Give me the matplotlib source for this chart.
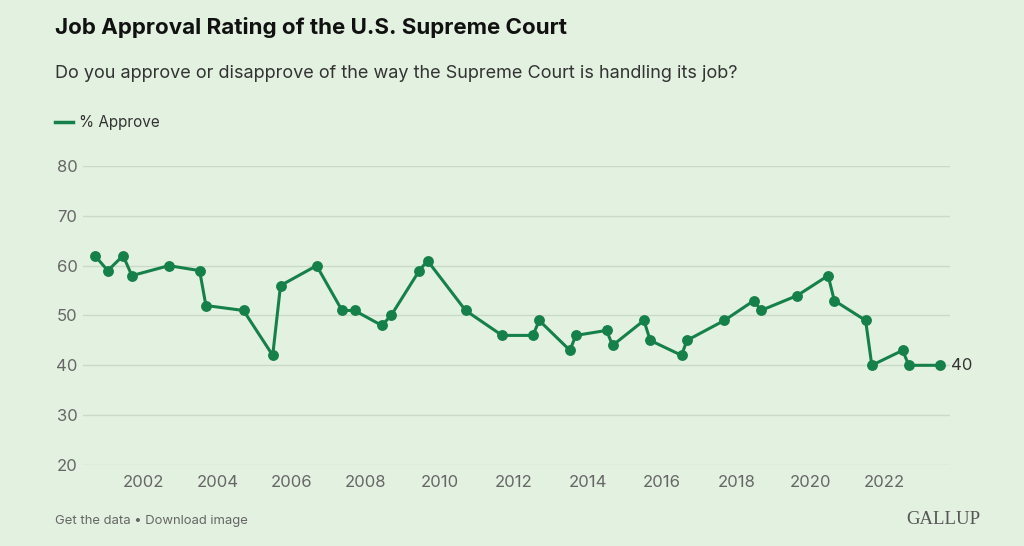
import pandas as pd
import matplotlib.pyplot as plt
import matplotlib.dates as mdates

# Gallup: % approve of the way the Supreme Court is handling its job
dates = [
    "2000-09-05", "2001-01-10", "2001-06-10", "2001-09-05", "2002-09-05",
    "2003-07-05", "2003-09-05", "2004-09-10", "2005-06-25", "2005-09-10",
    "2006-09-01", "2007-05-10", "2007-09-10", "2008-06-05", "2008-09-05",
    "2009-06-10", "2009-08-30", "2010-09-10", "2011-09-05", "2012-07-05",
    "2012-09-05", "2013-07-05", "2013-09-01", "2014-07-01", "2014-08-30",
    "2015-07-05", "2015-09-05", "2016-07-10", "2016-09-01", "2017-09-05",
    "2018-06-25", "2018-09-01", "2019-08-25", "2020-06-25", "2020-08-25",
    "2021-06-30", "2021-08-30", "2022-06-30", "2022-08-30", "2023-06-30",
]
approve = [
    62, 59, 62, 58, 60,
    59, 52, 51, 42, 56,
    60, 51, 51, 48, 50,
    59, 61, 51, 46, 46,
    49, 43, 46, 47, 44,
    49, 45, 42, 45, 49,
    53, 51, 54, 58, 53,
    49, 40, 43, 40, 40,
]
x = pd.to_datetime(dates)

bg = "#e3f1e0"
green = "#16804a"

fig = plt.figure(figsize=(10.24, 5.46), dpi=100, facecolor=bg)
ax = fig.add_axes([0.081, 0.1484, 0.8467, 0.5476], facecolor=bg)

ax.plot(x, approve, color=green, lw=2.2, marker="o", ms=6.8, clip_on=False, zorder=3)
ax.text(x[-1] + pd.Timedelta(days=110), approve[-1], str(approve[-1]),
        fontsize=12, color="#333333", va="center", ha="left", family="Inter")

ax.set_ylim(20, 80)
ax.set_yticks(range(20, 81, 10))
ax.set_xlim(pd.Timestamp("2000-05-10"), pd.Timestamp("2023-10-10"))
ax.set_xticks([pd.Timestamp(f"{y}-01-01") for y in range(2002, 2023, 2)])
ax.xaxis.set_major_formatter(mdates.DateFormatter("%Y"))

ax.grid(axis="y", color="#cbdac8", lw=1)
ax.set_axisbelow(True)
for s in ax.spines.values():
    s.set_visible(False)
ax.tick_params(length=0, labelsize=12, labelcolor="#666666")
ax.tick_params(axis="y", pad=4)
ax.tick_params(axis="x", pad=7)
for lbl in ax.get_xticklabels() + ax.get_yticklabels():
    lbl.set_family("Inter")

fig.text(55 / 1024, 1 - 27 / 546, "Job Approval Rating of the U.S. Supreme Court",
         fontsize=16.1, fontweight="bold", color="#111111", va="center", family="Inter")
fig.text(55 / 1024, 1 - 73 / 546,
         "Do you approve or disapprove of the way the Supreme Court is handling its job?",
         fontsize=13, color="#333333", va="center", family="Inter")

# legend
fig.add_artist(plt.Line2D([55 / 1024, 73 / 1024], [1 - 122 / 546] * 2, color=green, lw=2.5))
fig.text(79 / 1024, 1 - 122 / 546, "% Approve", fontsize=11, color="#333333",
         va="center", family="Inter")

fig.text(55 / 1024, 1 - 521 / 546, "Get the data \u2022 Download image",
         fontsize=9.4, color="#666666", va="center", family="Inter")
fig.text(980 / 1024, 1 - 520 / 546, "GALLUP", fontsize=13.5, color="#555555",
         va="center", ha="right", family="Liberation Serif")

fig.savefig("out.png", dpi=100, facecolor=bg)
